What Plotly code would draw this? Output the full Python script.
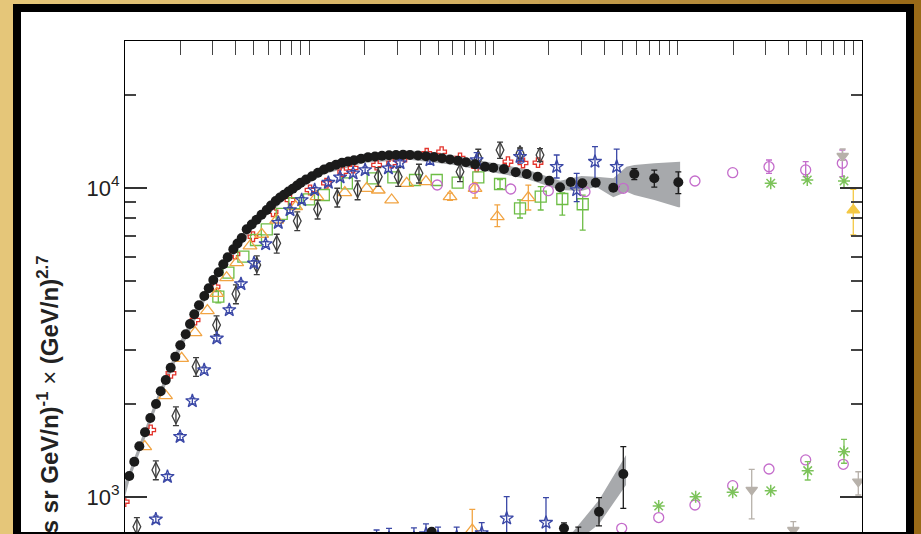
import plotly.graph_objects as go

# ---------------- data (E in GeV/n, F = flux x E^2.7) ----------------
# upper group
ams_p_E = [1.055, 1.123, 1.196, 1.284, 1.372, 1.473, 1.562, 1.664, 1.770, 1.875, 1.996, 2.135, 2.253, 2.377,
           2.521, 2.694, 2.847, 3.015, 3.224, 3.416, 3.609, 3.871, 4.079, 4.299, 4.576, 4.872, 5.172, 5.506,
           5.876, 6.200, 6.575, 6.938, 7.295, 7.718, 8.132, 8.582, 8.986, 9.603, 10.35, 11.15, 12.03, 12.96,
           13.97, 15.06, 16.23, 17.50, 19.10, 20.84, 22.75, 24.82, 27.10, 29.57, 32.27, 35.23, 38.93, 43.02,
           47.54, 52.54, 58.06, 64.16, 70.90, 79.35, 89.94, 99.75, 114.0, 132.0, 151.4, 173.8, 200.9, 229.6,
           262.4, 303.4, 358.6, 446.9, 581.0, 746.0, 1007]
ams_p_F = [1169, 1301, 1459, 1619, 1802, 2000, 2198, 2391, 2620, 2844, 3097, 3362, 3630, 3902, 4174, 4473,
           4736, 5038, 5335, 5665, 5967, 6333, 6613, 6889, 7349, 7619, 7891, 8190, 8488, 8778, 9077, 9317,
           9512, 9743, 9947, 10188, 10404, 10654, 10920, 11200, 11480, 11697, 11890, 12069, 12186, 12303,
           12431, 12571, 12644, 12711, 12758, 12787, 12816, 12787, 12740, 12673, 12598, 12485, 12365, 12246,
           12111, 11931, 11718, 11631, 11522, 11240, 11099, 10879, 10558, 10052, 10457, 10356, 10404, 10022,
           11099, 10750, 10433]
ams_p_err = [None] * 74 + [450, 680, 850]

ams_p_band_E = [1.0, 1.06, 1.5, 2.0, 3.0, 5.0, 8.0, 12, 20, 35, 60, 100, 150, 230, 300, 360, 447, 527, 581,
                746, 1007, 1030]
ams_p_band_lo = [1002, 1140, 1990, 2990, 4840, 7470, 9540, 11080, 12070, 12350, 11900, 11230, 10720, 9850,
                 9779, 10097, 9330, 9727, 9491, 9147, 8659, 8659]
ams_p_band_hi = [1121, 1220, 2130, 3210, 5190, 8010, 10220, 11880, 12940, 13240, 12760, 12040, 11500, 10560,
                 10934, 10879, 10750, 11718, 11870, 12022, 12168, 12168]

pam_E = [0.99, 1.379, 1.776, 2.40, 3.08, 3.95, 4.95, 6.36, 7.86, 10.1, 12.4, 15.2, 17.3, 23.2, 28.0, 33.1,
         43.4, 52.3, 65.8, 81.0, 119.8, 144.6, 174.4]
pam_F = [966, 1648, 2514, 3739, 4793, 6114, 6957, 8381, 9147, 9852, 10356, 11290, 11606, 11869, 12050, 12600,
         12950, 13107, 12506, 11718, 12168, 12050, 12077]

bess_E = [1.47, 1.70, 1.99, 2.32, 2.69, 3.15, 3.68, 4.26, 5.01, 5.80, 6.79, 7.86, 9.10, 10.7, 12.7, 14.7,
          17.3, 20.1, 26.9, 31.1, 45.2, 81.0, 139.3, 220.3, 282.8, 355.5, 466.2]
bess_F = [847, 1163, 1567, 2045, 2576, 3263, 4029, 4891, 5707, 6588, 7721, 8488, 9147, 9852, 10404, 10830,
          11157, 11439, 11584, 12050, 12320, 12320, 12627, 11718, 9852, 12168, 11718]
bess_err_hi = [20, 25, 35, 45, 55, 65, 80, 100, 115, 130, 150, 170, 180, 200, 210, 220, 230, 240, 260, 300,
               400, 700, 600, 1070, 1305, 1440, 1650]
bess_err_lo = [20, 25, 35, 45, 55, 65, 80, 100, 115, 130, 150, 170, 180, 200, 210, 220, 230, 240, 260, 300,
               400, 700, 600, 944, 822, 1550, 1620]

dia_E = [1.16, 1.47, 1.89, 2.43, 3.14, 4.00, 5.19, 6.66, 8.61, 11.1, 14.2, 18.3, 23.7, 30.4, 39.4, 65.8,
         82.7, 108.5, 139.3, 178.8]
dia_F = [801, 1223, 1829, 2641, 3603, 4539, 5635, 6622, 7821, 8533, 9330, 9852, 10879, 10879, 11157, 11290,
         12477, 13274, 12950, 12787]
dia_err = [56, 86, 128, 185, 252, 318, 394, 463, 547, 597, 650, 690, 760, 760, 780, 800, 870, 800, 520, 620]

tri_E = [1.28, 1.66, 2.03, 2.40, 2.80, 3.15, 3.56, 4.04, 4.77, 5.52, 6.66, 8.44, 11.0, 15.6, 20.5, 23.7,
         28.0, 33.8, 43.0, 58.1, 79.4, 104.9, 154.5]
tri_F = [1455, 2127, 2811, 3402, 4008, 4563, 5124, 5733, 6492, 7084, 7878, 8699, 9372, 9656, 9978, 9852,
         9147, 10356, 10481, 9372, 9978, 8074, 9303]
tri_err_hi = [None] * 19 + [250, 400, 740, 920]
tri_err_lo = [None] * 19 + [250, 695, 580, 815]

sq_E = [3.21, 3.64, 4.39, 5.14, 5.88, 7.09, 8.30, 9.97, 12.0, 16.0, 22.1, 28.6, 37.5, 49.2, 63.9, 82.7,
        108.5, 139.3, 180.4, 236.3, 304.9]
sq_F = [4449, 5319, 5994, 6788, 7349, 8240, 8924, 9193, 9491, 10356, 10750, 10830, 10615, 10615, 10404,
        10830, 10302, 8597, 9372, 9213, 8859]
sq_err_hi = [200] + [None] * 15 + [350, 550, 725, 420, 630]
sq_err_lo = [200] + [None] * 15 + [350, 600, 885, 1040, 1550]

cream_E = [49.5, 78.4, 124, 198.4, 313.7, 506.4, 1240, 1987, 3128, 4947, 7818]
cream_F = [10226, 9978, 9926, 9802, 9728, 9978, 10536, 11207, 11718, 11439, 12022]
cream_err_hi = [None] * 8 + [600, 730, 1250]
cream_err_lo = [None] * 8 + [560, 560, 1140]

nuc_E = [3196, 5047, 7985]
nuc_F = [10356, 10615, 10536]

gtri_E = [7855]
gtri_F = [12694]
gtri_err_hi = [680]
gtri_err_lo = [400]

ytri_E = [8969]
ytri_F = [8488]
ytri_err_hi = [1416]
ytri_err_lo = [1441]

# lower group
ams_he_E = [46.2, 241.3, 288.6, 373.8, 506.4]
ams_he_F = [772, 792, 742, 896, 1187]
ams_he_err_hi = [None, 32, 57, 99, 268]
ams_he_err_lo = [None, 30, 50, 90, 268]
ams_he_band_E = [197.6, 270, 374, 524]
ams_he_band_lo = [700, 700, 818, 1094]
ams_he_band_hi = [759, 772, 978, 1368]

bess_he_E = [23.2, 27.1, 37.0, 43.0, 50.0, 63.1, 86.3, 117.9, 192.7]
bess_he_F = [726, 737, 737, 759, 742, 742, 765, 853, 826]
bess_he_err = [56, 55, 58, 59, 57, 57, 61, 149, 169]

tri_he_E = [76.7]
tri_he_F = [782]
tri_he_err = [130]

cream_he_E = [496.3, 788.2, 1240, 1987, 3128, 4947, 7915]
cream_he_F = [792, 858, 942, 1088, 1232, 1318, 1276]

nuc_he_E = [788.2, 1251, 1987, 3196, 5073, 7985]
nuc_he_F = [935, 1002, 1036, 1048, 1217, 1401]
nuc_he_err_hi = [None, None, None, None, 84, 136]
nuc_he_err_lo = [None, None, None, None, 82, 115]

gtri_he_E = [2520, 4239, 9548]
gtri_he_F = [1054, 782, 1121]
gtri_he_err_hi = [175, 50, 86]
gtri_he_err_lo = [205, 50, 106]

# ---------------- styling ----------------
W, H = 921, 534
L, R, T, B = 125, 862, 41, 532

C_AMS = '#1b1b1b'
C_RED = '#e3342c'
C_BLUE = '#3a47a6'
C_DIA = '#3c3c3c'
C_ORA = '#f1a443'
C_GRN = '#6dbd45'
C_PUR = '#c46ccb'
C_AST = '#7cc35a'
C_GRY = '#b7b1aa'
C_YEL = '#f4c844'
C_BAND = '#a7a9ac'

fig = go.Figure()


def band(E, lo, hi):
    fig.add_trace(go.Scatter(x=list(E) + list(E)[::-1], y=list(hi) + list(lo)[::-1], mode='lines',
                             fill='toself', fillcolor=C_BAND, line=dict(width=0, color=C_BAND),
                             hoverinfo='skip', showlegend=False))


def series(E, F, sym, color, size, ehi=None, elo=None, lw=1.3):
    marker = dict(symbol=sym, color=color, size=size, line=dict(color=color, width=lw))
    n = len(E)
    ehi = ehi if ehi is not None else [None] * n
    elo = elo if elo is not None else ehi
    idx_e = [i for i in range(n) if ehi[i] is not None]
    idx_n = [i for i in range(n) if ehi[i] is None]
    if idx_n:
        fig.add_trace(go.Scatter(x=[E[i] for i in idx_n], y=[F[i] for i in idx_n], mode='markers',
                                 marker=marker, showlegend=False, cliponaxis=True))
    if idx_e:
        fig.add_trace(go.Scatter(x=[E[i] for i in idx_e], y=[F[i] for i in idx_e], mode='markers',
                                 marker=marker, showlegend=False, cliponaxis=True,
                                 error_y=dict(type='data', symmetric=False,
                                              array=[ehi[i] for i in idx_e],
                                              arrayminus=[elo[i] for i in idx_e],
                                              color=color, thickness=1.3, width=3)))


band(ams_p_band_E, ams_p_band_lo, ams_p_band_hi)
band(ams_he_band_E, ams_he_band_lo, ams_he_band_hi)

series(pam_E, pam_F, 'cross-open', C_RED, 8)
series(sq_E, sq_F, 'square-open', C_GRN, 11, sq_err_hi, sq_err_lo)
series(tri_E, tri_F, 'triangle-up-open', C_ORA, 12, tri_err_hi, tri_err_lo)
series(tri_he_E, tri_he_F, 'triangle-up-open', C_ORA, 12, tri_he_err, tri_he_err)
series(dia_E, dia_F, 'diamond-tall-open', C_DIA, 11, dia_err, dia_err)
series(bess_E, bess_F, 'star-open', C_BLUE, 10, bess_err_hi, bess_err_lo)
series(bess_he_E, bess_he_F, 'star-open', C_BLUE, 10, bess_he_err, bess_he_err)
series(cream_E, cream_F, 'circle-open', C_PUR, 10, cream_err_hi, cream_err_lo)
series(cream_he_E, cream_he_F, 'circle-open', C_PUR, 10)
series(nuc_E, nuc_F, 'asterisk-open', C_AST, 10, lw=1.5)
series(nuc_he_E, nuc_he_F, 'asterisk-open', C_AST, 10, nuc_he_err_hi, nuc_he_err_lo, lw=1.5)
series(gtri_E, gtri_F, 'triangle-down', C_GRY, 10, gtri_err_hi, gtri_err_lo)
series(gtri_he_E, gtri_he_F, 'triangle-down', C_GRY, 10, gtri_he_err_hi, gtri_he_err_lo)
series(ytri_E, ytri_F, 'triangle-up', C_YEL, 11, ytri_err_hi, ytri_err_lo)
series(ams_p_E, ams_p_F, 'circle', C_AMS, 10, ams_p_err, ams_p_err, lw=0)
series(ams_he_E, ams_he_F, 'circle', C_AMS, 10, ams_he_err_hi, ams_he_err_lo, lw=0)


# ---------------- frame decoration ----------------
def pxx(x):
    return (x - L) / (R - L)


def pyy(y):
    return (B - y) / (B - T)


shapes = []
c0 = (229, 199, 122)
c1 = (212, 176, 96)
c2 = (152, 104, 22)
N = 46
for i in range(N):
    t = (i + 0.5) / N
    if t < 0.5:
        a, b, u = c0, c1, t / 0.5
    else:
        a, b, u = c1, c2, (t - 0.5) / 0.5
    col = 'rgb(%d,%d,%d)' % tuple(round(a[k] + (b[k] - a[k]) * u) for k in range(3))
    shapes.append(dict(type='rect', xref='paper', yref='paper', layer='below',
                       x0=pxx(i * W / N - 1), x1=pxx((i + 1) * W / N + 1), y0=pyy(H + 5), y1=pyy(-5),
                       fillcolor=col, line=dict(width=0)))
shapes.append(dict(type='rect', xref='paper', yref='paper', layer='below',
                   x0=pxx(13), x1=pxx(914), y0=pyy(H + 5), y1=pyy(4),
                   fillcolor='black', line=dict(width=0)))
shapes.append(dict(type='rect', xref='paper', yref='paper', layer='below',
                   x0=pxx(21), x1=pxx(906), y0=pyy(532), y1=pyy(12),
                   fillcolor='white', line=dict(width=0)))

minor_x = [m * 10 ** d for d in range(4) for m in range(2, 10)]
minor_y = [m * 1000 for m in range(2, 10)] + [20000]

FONT = 'Liberation Sans, Arial, sans-serif'

fig.update_layout(
    width=W, height=H,
    margin=dict(l=L, r=W - R, t=T, b=H - B, pad=0),
    paper_bgcolor='rgb(212,176,96)', plot_bgcolor='white',
    shapes=shapes,
    showlegend=False,
    xaxis=dict(type='log', range=[0, 4], side='top', showline=True, linecolor='black', linewidth=1,
               mirror=False, ticks='inside', ticklen=14, tickwidth=1.2, tickcolor='#444',
               tickvals=[1, 10, 100, 1000, 10000], showticklabels=False, showgrid=False, zeroline=False,
               minor=dict(tickvals=minor_x, ticks='inside', ticklen=14, tickwidth=1.2, tickcolor='#444',
                          showgrid=False)),
    yaxis=dict(type='log', range=[2.8867, 4.4757], showline=True, linecolor='black', linewidth=1,
               mirror='ticks', ticks='inside', ticklen=22, tickwidth=1.5, tickcolor='#333',
               tickvals=[1000, 10000], ticktext=['10<sup>3</sup>', '10<sup>4</sup>'],
               tickfont=dict(family=FONT, size=22, color='#222'),
               showgrid=False, zeroline=False,
               minor=dict(tickvals=minor_y, ticks='inside', ticklen=11, tickwidth=1.5, tickcolor='#444',
                          showgrid=False)),
    annotations=[dict(text='<b>Flux (m<sup>2</sup> s sr GeV/n)<sup>-1</sup></b> × <b>(GeV/n)<sup>2.7</sup></b>',
                      xref='paper', yref='paper', x=pxx(47), y=pyy(254), xanchor='center', yanchor='top',
                      textangle=-90, showarrow=False,
                      font=dict(family=FONT, size=24, color='#222'))],
)

fig.write_html('out.html')
